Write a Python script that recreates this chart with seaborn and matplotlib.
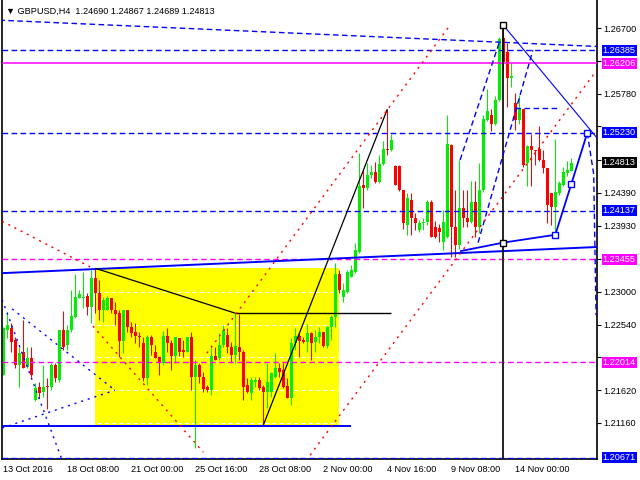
import numpy as np
import matplotlib
matplotlib.use("Agg")
import matplotlib.pyplot as plt
import matplotlib.transforms as mtransforms
from matplotlib.patches import Rectangle
import seaborn as sns

# GBPUSD H4 candles (oldest first)
opens = [1.2183, 1.2246, 1.2249, 1.2232, 1.2197, 1.2216, 1.2195, 1.2207, 1.2148, 1.2166,
         1.2159, 1.2168, 1.2167, 1.2197, 1.2176, 1.2246, 1.2225, 1.2246, 1.2265, 1.2292,
         1.2292, 1.2294, 1.2278, 1.2319, 1.2299, 1.2274, 1.2274, 1.2291, 1.2275, 1.2270,
         1.2231, 1.2274, 1.2250, 1.2243, 1.2238, 1.2228, 1.2179, 1.2236, 1.2216, 1.2209,
         1.2200, 1.2238, 1.2228, 1.2210, 1.2235, 1.2218, 1.2216, 1.2236, 1.2180, 1.2197,
         1.2181, 1.2167, 1.2162, 1.2210, 1.2207, 1.2225, 1.2239, 1.2223, 1.2211, 1.2222,
         1.2216, 1.2169, 1.2158, 1.2173, 1.2176, 1.2166, 1.2160, 1.2160, 1.2181, 1.2193,
         1.2190, 1.2168, 1.2151, 1.2228, 1.2238, 1.2233, 1.2229, 1.2242, 1.2229, 1.2236,
         1.2243, 1.2224, 1.2250, 1.2265, 1.2325, 1.2293, 1.2300, 1.2321, 1.2328, 1.2356,
         1.2450, 1.2445, 1.2464, 1.2468, 1.2454, 1.2479, 1.2501, 1.2499, 1.2476, 1.2476,
         1.2443, 1.2394, 1.2429, 1.2404, 1.2387, 1.2396, 1.2398, 1.2426, 1.2391, 1.2389,
         1.2370, 1.2377, 1.2506, 1.2391, 1.2366, 1.2418, 1.2403, 1.2398, 1.2426, 1.2391,
         1.2443, 1.2541, 1.2548, 1.2536, 1.2569, 1.2656, 1.2636, 1.2600, 1.2565, 1.2541,
         1.2556, 1.2480, 1.2504, 1.2499, 1.2501, 1.2485, 1.2473, 1.2438, 1.2419, 1.2438,
         1.2450, 1.2466, 1.2469]
highs = [1.2251, 1.2272, 1.2256, 1.2237, 1.2223, 1.2261, 1.2223, 1.2223, 1.2172, 1.2174,
         1.2197, 1.2179, 1.2200, 1.2200, 1.2246, 1.2273, 1.2253, 1.2303, 1.2325, 1.2302,
         1.2328, 1.2298, 1.2330, 1.2333, 1.2316, 1.2293, 1.2294, 1.2291, 1.2286, 1.2274,
         1.2274, 1.2274, 1.2258, 1.2256, 1.2244, 1.2237, 1.2239, 1.2239, 1.2225, 1.2209,
         1.2245, 1.2249, 1.2233, 1.2236, 1.2235, 1.2233, 1.2236, 1.2244, 1.2204, 1.2200,
         1.2188, 1.2169, 1.2225, 1.2223, 1.2242, 1.2253, 1.2249, 1.2230, 1.2270, 1.2269,
         1.2218, 1.2179, 1.2181, 1.2181, 1.2181, 1.2169, 1.2200, 1.2188, 1.2214, 1.2200,
         1.2200, 1.2179, 1.2235, 1.2249, 1.2242, 1.2237, 1.2255, 1.2244, 1.2246, 1.2251,
         1.2244, 1.2252, 1.2267, 1.2340, 1.2331, 1.2312, 1.2331, 1.2338, 1.2368, 1.2494,
         1.2471, 1.2480, 1.2478, 1.2482, 1.2492, 1.2511, 1.2556, 1.2522, 1.2478, 1.2478,
         1.2443, 1.2438, 1.2438, 1.2410, 1.2401, 1.2403, 1.2429, 1.2429, 1.2400, 1.2395,
         1.2415, 1.2548, 1.2508, 1.2443, 1.2485, 1.2443, 1.2443, 1.2455, 1.2455, 1.2480,
         1.2548, 1.2585, 1.2557, 1.2575, 1.2658, 1.2674, 1.2649, 1.2621, 1.2579, 1.2576,
         1.2556, 1.2506, 1.2522, 1.2499, 1.2532, 1.2499, 1.2473, 1.2438, 1.2515, 1.2455,
         1.2475, 1.2483, 1.2487]
lows = [1.2183, 1.2235, 1.2216, 1.2193, 1.2167, 1.2193, 1.2193, 1.2181, 1.2147, 1.2151,
        1.2153, 1.2135, 1.2162, 1.2174, 1.2174, 1.2219, 1.2219, 1.2244, 1.2263, 1.2291,
        1.2277, 1.2267, 1.2256, 1.2270, 1.2260, 1.2258, 1.2274, 1.2270, 1.2253, 1.2209,
        1.2214, 1.2244, 1.2237, 1.2228, 1.2223, 1.2175, 1.2169, 1.2211, 1.2207, 1.2183,
        1.2197, 1.2216, 1.2190, 1.2200, 1.2210, 1.2209, 1.2216, 1.2162, 1.2081, 1.2172,
        1.2160, 1.2159, 1.2155, 1.2204, 1.2204, 1.2223, 1.2214, 1.2202, 1.2200, 1.2204,
        1.2148, 1.2158, 1.2148, 1.2167, 1.2162, 1.2113, 1.2137, 1.2153, 1.2179, 1.2181,
        1.2165, 1.2151, 1.2141, 1.2218, 1.2209, 1.2228, 1.2216, 1.2205, 1.2216, 1.2228,
        1.2222, 1.2221, 1.2232, 1.2251, 1.2298, 1.2286, 1.2298, 1.2321, 1.2326, 1.2354,
        1.2417, 1.2443, 1.2459, 1.2452, 1.2452, 1.2478, 1.2492, 1.2497, 1.2450, 1.2441,
        1.2388, 1.2380, 1.2380, 1.2387, 1.2384, 1.2387, 1.2394, 1.2377, 1.2375, 1.2370,
        1.2359, 1.2375, 1.2349, 1.2349, 1.2360, 1.2391, 1.2391, 1.2396, 1.2377, 1.2382,
        1.2440, 1.2539, 1.2525, 1.2534, 1.2567, 1.2611, 1.2559, 1.2587, 1.2527, 1.2536,
        1.2475, 1.2448, 1.2448, 1.2478, 1.2483, 1.2466, 1.2396, 1.2394, 1.2382, 1.2436,
        1.2448, 1.2462, 1.2469]
closes = [1.2249, 1.2253, 1.2230, 1.2197, 1.2214, 1.2193, 1.2207, 1.2183, 1.2165, 1.2158,
          1.2167, 1.2166, 1.2197, 1.2179, 1.2246, 1.2223, 1.2246, 1.2266, 1.2293, 1.2297,
          1.2293, 1.2278, 1.2319, 1.2299, 1.2275, 1.2288, 1.2291, 1.2274, 1.2269, 1.2231,
          1.2274, 1.2251, 1.2242, 1.2238, 1.2236, 1.2179, 1.2236, 1.2225, 1.2207, 1.2202,
          1.2238, 1.2228, 1.2210, 1.2236, 1.2216, 1.2216, 1.2236, 1.2180, 1.2197, 1.2180,
          1.2163, 1.2162, 1.2210, 1.2205, 1.2225, 1.2246, 1.2223, 1.2211, 1.2224, 1.2216,
          1.2167, 1.2160, 1.2176, 1.2176, 1.2165, 1.2160, 1.2174, 1.2186, 1.2193, 1.2188,
          1.2167, 1.2151, 1.2228, 1.2238, 1.2231, 1.2229, 1.2242, 1.2228, 1.2236, 1.2244,
          1.2224, 1.2250, 1.2265, 1.2325, 1.2302, 1.2302, 1.2328, 1.2331, 1.2359, 1.2448,
          1.2446, 1.2464, 1.2468, 1.2454, 1.2479, 1.2501, 1.2499, 1.2513, 1.2450, 1.2443,
          1.2396, 1.2431, 1.2403, 1.2396, 1.2396, 1.2398, 1.2426, 1.2377, 1.2377, 1.2384,
          1.2398, 1.2508, 1.2391, 1.2366, 1.2417, 1.2403, 1.2398, 1.2426, 1.2391, 1.2443,
          1.2542, 1.2554, 1.2536, 1.2569, 1.2655, 1.2622, 1.2600, 1.2603, 1.2541, 1.2557,
          1.2478, 1.2504, 1.2499, 1.2497, 1.2485, 1.2473, 1.2422, 1.2419, 1.2440, 1.2452,
          1.2468, 1.2471, 1.2481]

title = "\u25bc GBPUSD,H4  1.24690 1.24867 1.24689 1.24813"

tick_bars = [0, 16, 32, 48, 64, 80, 96, 112, 128]
tick_dates = ["13 Oct 2016", "18 Oct 08:00", "21 Oct 00:00", "25 Oct 16:00", "28 Oct 08:00",
              "2 Nov 00:00", "4 Nov 16:00", "9 Nov 08:00", "14 Nov 00:00"]
price_ticks = [1.2116, 1.2162, 1.2208, 1.2254, 1.2300, 1.2346, 1.2393, 1.2439, 1.2485,
               1.2532, 1.2578, 1.2624, 1.2670]
# ticks sitting under a price tag have their label covered, so leave them blank
price_tick_labels = ["1.21160", "1.21620", "", "1.22540", "1.23000", "",
                     "1.23930", "1.24390", "", "", "1.25780", "",
                     "1.26700"]

# horizontal levels
blue_levels = [1.26385, 1.25230, 1.24137, 1.20671]
magenta_dashed_levels = [1.23455, 1.22014]
magenta_solid_level = 1.26206
label_prices = [1.26385, 1.26206, 1.25230, 1.24813, 1.24137, 1.23455, 1.22014, 1.20671]

# drawn objects as (bar, price) anchors
box_bars = [23, 84]
box_prices = [1.2112, 1.2333]
top_channel_bars = [-1, 149]
top_channel_prices = [1.2681, 1.2644]
support_bars = [-1, 149]
support_prices = [1.2326, 1.2363]
floor_bars = [-1, 87]
floor_prices = [1.2112, 1.2112]
fall_bars = [23, 58]
fall_prices = [1.2333, 1.2270]
neck_bars = [58, 97]
neck_prices = [1.2270, 1.2270]
rally_bars = [65, 96]
rally_prices = [1.2113, 1.2556]
peak_bar = 125
peak_prices = [1.2674, 1.2000]
pattern_bars = [114.2, 125, 138, 142, 146]
pattern_prices = [1.2357, 1.2369, 1.2380, 1.2451, 1.2523]
drop_bars = [125, 149]
drop_prices = [1.2674, 1.2512]
proj_bars = [146, 147.6, 148.2]
proj_prices = [1.2523, 1.2465, 1.2267]
fork1_bars = [114.2, 124.2]
fork1_prices = [1.2485, 1.2653]
fork2_bars = [118.7, 132.4]
fork2_prices = [1.2369, 1.2639]
mid_bars = [128, 139]
mid_prices = [1.2558, 1.2558]
red_dot_bars = [[-0.3, 21.7], [22.4, 50.0], [50.9, 111.7], [76.7, 148.4]]
red_dot_prices = [[1.2399, 1.2335], [1.2252, 1.2075], [1.2214, 1.2674], [1.2071, 1.2611]]
blue_dot_bars = [[-0.3, 14.7], [2.2, 27.9], [-0.3, 27.9]]
blue_dot_prices = [[1.2289, 1.2064], [1.2276, 1.2162], [1.2109, 1.2162]]


def line(ax, bars, prices, color, lw=0.75, ls="-", z=3):
    ax.plot(bars, prices, color=color, lw=lw, ls=ls, zorder=z, solid_capstyle="butt")


sns.set_style("white", {"axes.edgecolor": "black", "xtick.color": "black",
                        "ytick.color": "black", "text.color": "black"})
plt.rcParams["font.family"] = ["Liberation Sans", "DejaVu Sans"]
plt.rcParams["font.size"] = 6.6

fig = plt.figure(figsize=(6.4, 4.8), dpi=100)
ax = fig.add_axes([2 / 640, 21 / 480, 595 / 640, 459 / 480])
ax.set_xlim(-0.33, 148.43)
ax.set_ylim(1.20655, 1.27093)

# yellow rectangle and the chart grid that shows on it
ax.add_patch(Rectangle((box_bars[0], box_prices[0]), box_bars[1] - box_bars[0],
                       box_prices[1] - box_prices[0], facecolor="#ffff00",
                       edgecolor="none", zorder=0.5))
for p in price_ticks:
    ax.axhline(p, color="white", lw=0.75, ls=(0, (4, 3)), zorder=0.8)

# candles
o = np.array(opens)
h = np.array(highs)
l = np.array(lows)
c = np.array(closes)
x = np.arange(len(o))
cols = np.where(c >= o, "#00ee00", "#ff0000")
ax.vlines(x, l, h, colors=cols, lw=0.75, zorder=2)
body_low = np.minimum(o, c)
body_h = np.maximum(np.abs(c - o), 0.00007)
ax.bar(x, body_h, bottom=body_low, width=0.72, color=cols, linewidth=0, zorder=2.2)

# horizontal levels
for p in blue_levels:
    ax.axhline(p, color="#0000ff", lw=1.0, ls=(0, (4, 2.5)), zorder=3)
for p in magenta_dashed_levels:
    ax.axhline(p, color="#ff00ff", lw=1.0, ls=(0, (4, 2.5)), zorder=3)
ax.axhline(magenta_solid_level, color="#ff00ff", lw=1.1, zorder=3)

# trend lines and pattern
line(ax, top_channel_bars, top_channel_prices, "#0000ff", 1.0, (0, (4, 2.5)))
line(ax, support_bars, support_prices, "#0000ff", 1.4)
line(ax, floor_bars, floor_prices, "#0000ff", 1.4)
line(ax, fall_bars, fall_prices, "black", 0.9)
line(ax, neck_bars, neck_prices, "black", 1.0)
line(ax, rally_bars, rally_prices, "black", 0.9)
line(ax, [peak_bar, peak_bar], peak_prices, "black", 1.2)
line(ax, pattern_bars, pattern_prices, "#0000ff", 1.3)
line(ax, drop_bars, drop_prices, "#0000ff", 0.8)
line(ax, proj_bars, proj_prices, "#0000ff", 1.0, (0, (4, 2.5)))
line(ax, fork1_bars, fork1_prices, "#0000ff", 1.0, (0, (4, 2.5)))
line(ax, fork2_bars, fork2_prices, "#0000ff", 1.0, (0, (4, 2.5)))
line(ax, mid_bars, mid_prices, "#0000ff", 1.0, (0, (4, 2.5)))
for bb, pp in zip(red_dot_bars, red_dot_prices):
    line(ax, bb, pp, "#ff0000", 1.0, (0, (1.5, 3.5)))
for bb, pp in zip(blue_dot_bars, blue_dot_prices):
    line(ax, bb, pp, "#0000ff", 1.0, (0, (1.5, 3.5)))

ax.plot(pattern_bars[2:], pattern_prices[2:], "s", ms=4, mfc="white", mec="#0000ff",
        mew=1.0, zorder=4)
ax.plot([peak_bar, peak_bar], [peak_prices[0], pattern_prices[1]], "s", ms=4,
        mfc="white", mec="black", mew=1.0, zorder=4)

# axes: price scale on the right, dates at the bottom
ax.spines["top"].set_visible(False)
for s in ["left", "right", "bottom"]:
    ax.spines[s].set_linewidth(1.2)
ax.yaxis.tick_right()
ax.set_yticks(price_ticks)
ax.set_yticklabels(price_tick_labels)
ax.set_xticks(tick_bars)
ax.set_xticklabels(tick_dates)
for t in ax.get_xticklabels():
    t.set_ha("left")
ax.tick_params(axis="both", direction="out", length=3, width=0.8, labelsize=6.6, pad=1.5)
ax.tick_params(axis="x", pad=1)

# price tags
tag_colors = ["#0000ff", "#ff00ff", "#0000ff", "black", "#0000ff", "#ff00ff", "#ff00ff",
              "#0000ff"]
tr = mtransforms.blended_transform_factory(ax.transAxes, ax.transData)
for p, col in zip(label_prices, tag_colors):
    ax.text(1.0095, p, f"{p:.5f}", transform=tr, ha="left", va="center", color="white",
            fontsize=6.6, clip_on=False, zorder=10,
            bbox=dict(boxstyle="square,pad=0.12", fc=col, ec="none"))

fig.text(6 / 640, 1 - 11 / 480, title, ha="left", va="center", fontsize=6.6)

fig.savefig("out.png", dpi=100)
